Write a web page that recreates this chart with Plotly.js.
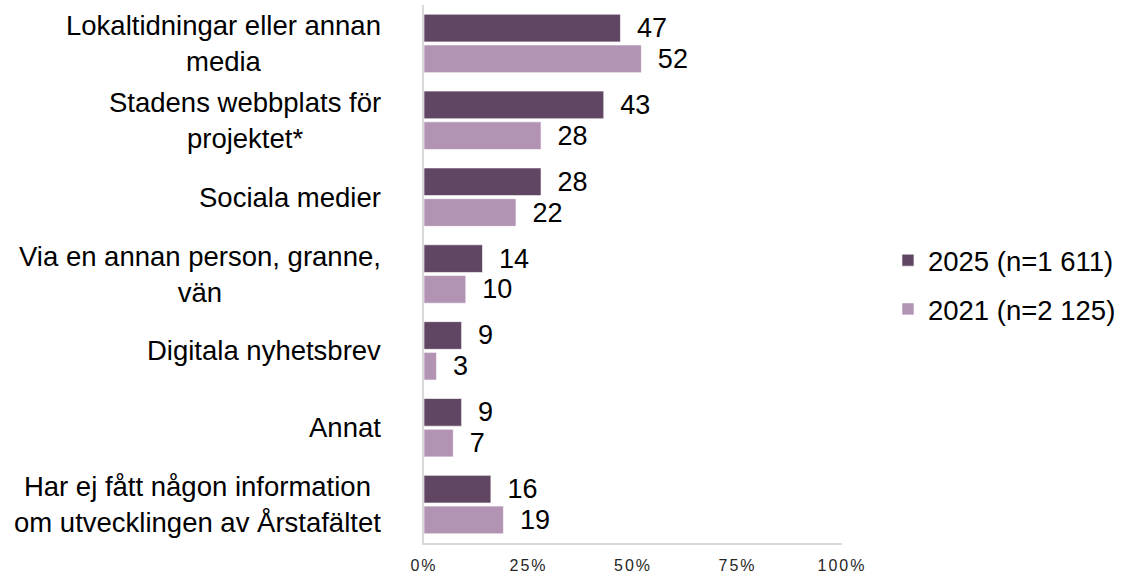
<!DOCTYPE html>
<html>
<head>
<meta charset="utf-8">
<script src="https://cdn.plot.ly/plotly-3.0.1.min.js"></script>
<style>
html,body{margin:0;padding:0;background:#fff;}
#chart{width:1121px;height:575px;}
.xtick text{letter-spacing:2px;}
</style>
</head>
<body>
<div id="chart"></div>
<script>
const categories = [
  "Lokaltidningar eller annan<br>media",
  "Stadens webbplats för<br>projektet*",
  "Sociala medier",
  "Via en annan person, granne,<br>vän",
  "Digitala nyhetsbrev",
  "Annat",
  "Har ej fått någon information<br>om utvecklingen av Årstafältet"
];
const values2025 = [47, 43, 28, 14, 9, 9, 16];
const values2021 = [52, 28, 22, 10, 3, 7, 19];
const seriesNames = ["2025 (n=1 611)", "2021 (n=2 125)"];
const tickVals = [0, 25, 50, 75, 100];
const tickText = ["0%", "25%", "50%", "75%", "100%"];

const font = "Liberation Sans, Arial, sans-serif";
const dark = "#614664";
const light = "#B293B4";

const traces = [
  {
    type: "bar", orientation: "h", name: seriesNames[0],
    y: categories, x: values2025,
    marker: {color: dark, line: {color: "rgba(255,255,255,0.6)", width: 1}},
    texttemplate: "\u2002%{x}", textposition: "outside", constraintext: "none",
    textfont: {family: font, size: 27, color: "#000"},
    cliponaxis: false, legendgroup: "a", hoverinfo: "x+y"
  },
  {
    type: "bar", orientation: "h", name: seriesNames[1],
    y: categories, x: values2021,
    marker: {color: light, line: {color: "rgba(255,255,255,0.6)", width: 1}},
    texttemplate: "\u2002%{x}", textposition: "outside", constraintext: "none",
    textfont: {family: font, size: 27, color: "#000"},
    cliponaxis: false, legendgroup: "b", hoverinfo: "x+y"
  }
];

const annotations = categories.map(c => ({
  xref: "paper", yref: "y", x: -0.098, y: c,
  xanchor: "right", yanchor: "middle", align: "center",
  text: c, showarrow: false,
  font: {family: font, size: 27.5, color: "#000"}
}));

const layout = {
  width: 1121, height: 575,
  margin: {l: 424, r: 279, t: 5, b: 32, pad: 0, autoexpand: false},
  paper_bgcolor: "#fff", plot_bgcolor: "#fff",
  barmode: "group", bargap: 0.2, bargroupgap: 0.1,
  showlegend: true,
  legend: {
    x: 1.11, xanchor: "left", y: 0.48, yanchor: "middle",
    font: {family: font, size: 27.5, color: "#000"},
    tracegroupgap: 10, traceorder: "grouped",
    bgcolor: "rgba(0,0,0,0)"
  },
  xaxis: {
    range: [0, 100], tickvals: tickVals, ticktext: tickText,
    showgrid: false, zeroline: false,
    showline: true, linecolor: "#D9D9D9", linewidth: 2,
    ticks: "", ticklabelstandoff: 7,
    tickfont: {family: font, size: 16, color: "#262626"},
    fixedrange: true
  },
  yaxis: {
    type: "category", categoryorder: "array", categoryarray: categories,
    autorange: "reversed", showticklabels: false, ticks: "",
    showgrid: false, zeroline: false,
    showline: true, linecolor: "#D9D9D9", linewidth: 2,
    fixedrange: true
  },
  annotations: annotations
};

Plotly.newPlot("chart", traces, layout, {displayModeBar: false, staticPlot: true});
</script>
</body>
</html>
